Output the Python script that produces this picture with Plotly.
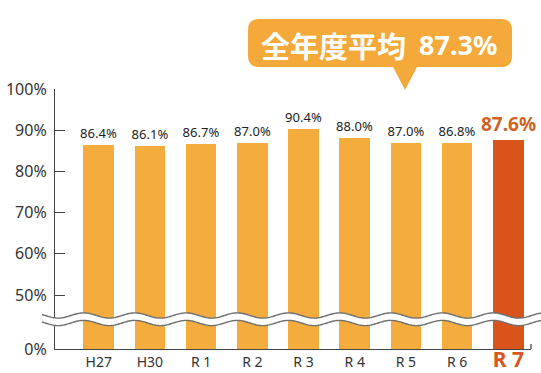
import math
import plotly.graph_objects as go

# ---- data ----
categories = ["H27", "H30", "R 1", "R 2", "R 3", "R 4", "R 5", "R 6", "R 7"]
rates = [86.4, 86.1, 86.7, 87.0, 90.4, 88.0, 87.0, 86.8, 87.6]
annual_average = 87.3
average_label = "全年度平均"
ytick_values = [50, 60, 70, 80, 90, 100]
ytick_labels = ["50%", "60%", "70%", "80%", "90%", "100%"]
zero_label = "0%"

# ---- layout geometry (pixels) ----
W, H = 541, 373
L, R, T, B = 55, 531, 89, 349
SPACING = 51.2
FIRST_CENTER = 98.7
ZERO_EQ = 36.9  # value drawn at the 0% line (broken axis)

xr0 = (L - FIRST_CENTER) / SPACING
xr1 = (R - FIRST_CENTER) / SPACING

def px(x):
    return (x - L) / (R - L)

def py(y):
    return (B - y) / (B - T)

ORANGE = "#F4AC3C"
HIGHLIGHT = "#D9541A"
HL_TEXT = "#D0621F"
FONT = "Noto Sans, sans-serif"

n = len(categories)
bar_colors = [ORANGE] * (n - 1) + [HIGHLIGHT]
bar_text = [f"{v:.1f}%" for v in rates[:-1]] + [""]

fig = go.Figure()
fig.add_trace(go.Bar(
    x=list(range(n)), y=rates, base=0,
    marker=dict(color=bar_colors, line=dict(width=0)),
    width=0.596,
    text=bar_text, textposition="outside", constraintext="none",
    textfont=dict(size=13, color="#222222", family=FONT),
    cliponaxis=False,
    hoverinfo="skip",
))

# highlighted value label
fig.add_annotation(
    x=n - 1, y=rates[-1], xref="x", yref="y",
    text=f"<b>{rates[-1]:.1f}%</b>", showarrow=False,
    yanchor="bottom", yshift=1,
    font=dict(size=19, color=HL_TEXT, family=FONT),
)

ticktext = categories[:-1] + [f'<span style="font-size:21px;color:{HIGHLIGHT}"><b>{categories[-1]}</b></span>']

fig.update_xaxes(
    range=[xr0, xr1], tickmode="array", tickvals=list(range(n)), ticktext=ticktext,
    showline=True, linecolor="#444444", linewidth=1.2, ticks="",
    tickfont=dict(size=14, color="#333333", family=FONT),
    showgrid=False, zeroline=False, fixedrange=True, automargin=False,
)
fig.update_yaxes(
    range=[ZERO_EQ, 100], tickmode="array",
    tickvals=[ZERO_EQ] + ytick_values, ticktext=[zero_label] + ytick_labels,
    showline=True, linecolor="#444444", linewidth=1.2,
    ticks="inside", ticklen=10, tickcolor="#444444", tickwidth=1.2,
    tickfont=dict(size=16, color="#333333", family=FONT),
    ticklabelstandoff=4,
    showgrid=False, zeroline=False, fixedrange=True, automargin=False,
)

shapes = []
# ---- wavy axis break ----
x_start, x_end = 42, 541
up_c, low_c, amp = 315.5, 323.0, 2.6
crest0 = FIRST_CENTER - 15
xs = [x_start + i * 1.0 for i in range(int(x_end - x_start) + 1)]
def wave(xp, c):
    return c - amp * math.cos(2 * math.pi * (xp - crest0) / SPACING)
upper = [(px(x), py(wave(x, up_c))) for x in xs]
lower = [(px(x), py(wave(x, low_c))) for x in xs]
band = "M " + " L ".join(f"{a:.5f},{b:.5f}" for a, b in upper + lower[::-1]) + " Z"
shapes.append(dict(type="path", xref="paper", yref="paper", path=band,
                   fillcolor="white", line=dict(width=0), layer="above"))
for pts in (upper, lower):
    p = "M " + " L ".join(f"{a:.5f},{b:.5f}" for a, b in pts)
    shapes.append(dict(type="path", xref="paper", yref="paper", path=p,
                       line=dict(color="#6f6f6f", width=1.4), layer="above"))

# small end tick on x-axis
shapes.append(dict(type="line", xref="paper", yref="paper",
                   x0=px(R), x1=px(R), y0=py(B), y1=py(B - 5),
                   line=dict(color="#444444", width=1.2)))

# ---- callout bubble ----
bx0, bx1, by0, by1, rr = 248, 512, 19, 67, 11
BUBBLE = "#F4A93A"
def P(x, y):
    return f"{px(x):.5f},{py(y):.5f}"
bub = (f"M {P(bx0 + rr, by0)} L {P(bx1 - rr, by0)} Q {P(bx1, by0)} {P(bx1, by0 + rr)} "
       f"L {P(bx1, by1 - rr)} Q {P(bx1, by1)} {P(bx1 - rr, by1)} "
       f"L {P(417, by1)} L {P(405, 90)} L {P(393, by1)} "
       f"L {P(bx0 + rr, by1)} Q {P(bx0, by1)} {P(bx0, by1 - rr)} "
       f"L {P(bx0, by0 + rr)} Q {P(bx0, by0)} {P(bx0 + rr, by0)} Z")
shapes.append(dict(type="path", xref="paper", yref="paper", path=bub,
                   fillcolor=BUBBLE, line=dict(width=0)))

fig.add_annotation(
    x=px(259), y=py(45), xref="paper", yref="paper",
    text=f"<b>{average_label}</b>", showarrow=False,
    xanchor="left", yanchor="middle",
    font=dict(size=29, color="white", family="Noto Sans CJK JP"),
)
fig.add_annotation(
    x=px(499), y=py(45), xref="paper", yref="paper",
    text=f"<b>{annual_average:.1f}%</b>", showarrow=False,
    xanchor="right", yanchor="middle",
    font=dict(size=27, color="white", family=FONT),
)

fig.update_layout(
    width=W, height=H, margin=dict(l=L, r=W - R, t=T, b=H - B),
    paper_bgcolor="white", plot_bgcolor="white",
    showlegend=False, shapes=shapes, bargap=0,
)

fig.write_html("out.html", config={"displayModeBar": False},
               post_script="document.body.style.margin='0';document.body.style.overflow='hidden';")
